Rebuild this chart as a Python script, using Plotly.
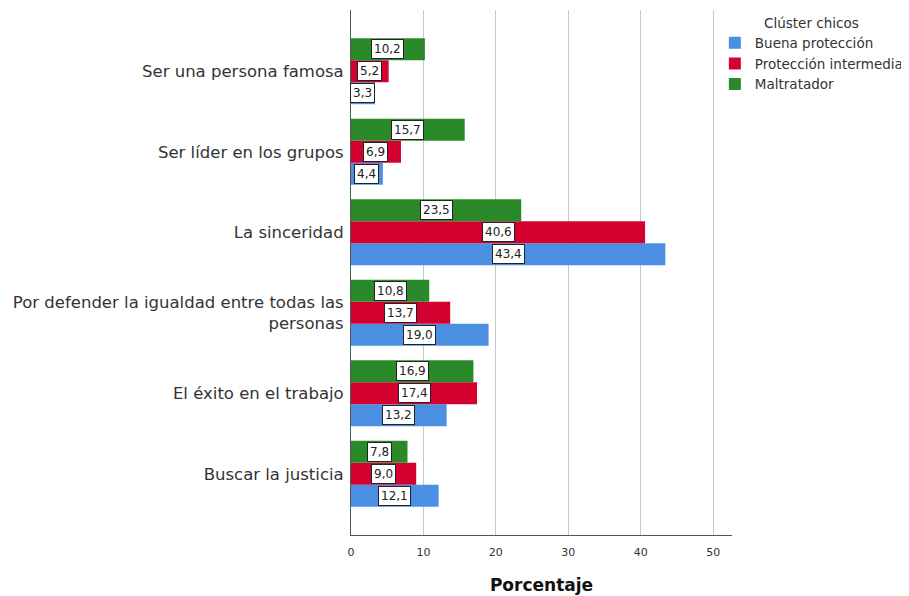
import plotly.graph_objects as go

categories = ["Ser una persona famosa", "Ser líder en los grupos", "La sinceridad",
              "Por defender la igualdad entre todas las<br>personas",
              "El éxito en el trabajo", "Buscar la justicia"]
series_names = ["Buena protección", "Protección intermedia", "Maltratador"]
buena = [3.3, 4.4, 43.4, 19.0, 13.2, 12.1]
intermedia = [5.2, 6.9, 40.6, 13.7, 17.4, 9.0]
maltratador = [10.2, 15.7, 23.5, 10.8, 16.9, 7.8]
colors = ["#4a8fe2", "#d4002f", "#2a8a2a"]
x_ticks = [0, 10, 20, 30, 40, 50]

# bottom-to-top order for plotting
cats_bt = categories[::-1]
series = [buena, intermedia, maltratador]

FONT = "DejaVu Sans, Liberation Sans, Arial"

fig = go.Figure()
bargap = 0.18
bw = (1 - bargap) / 3
for k, (name, vals, col) in enumerate(zip(series_names, series, colors)):
    v_bt = vals[::-1]
    fig.add_trace(go.Bar(y=cats_bt, x=v_bt, name=name, orientation="h",
                         marker=dict(color=col, line=dict(width=0))))
    off = (k - 1) * bw
    for i, v in enumerate(v_bt):
        fig.add_annotation(x=v / 2, y=i + off, xref="x", yref="y",
                           text=f"{v:.1f}".replace(".", ","), showarrow=False,
                           bgcolor="white", bordercolor="#222222", borderwidth=1,
                           borderpad=2,
                           font=dict(family=FONT, size=12, color="#222222"))

fig.update_layout(
    barmode="group", bargap=bargap, bargroupgap=0,
    width=901, height=588,
    margin=dict(l=343, r=177, t=2, b=61, autoexpand=False),
    plot_bgcolor="white", paper_bgcolor="white",
    font=dict(family=FONT, color="#333333"),
    legend=dict(title=dict(text="Clúster chicos", side="top center",
                           font=dict(size=13.5, color="#333333")),
                x=0.955, xanchor="left", y=1.0, yanchor="top",
                traceorder="normal", font=dict(size=13.5, color="#333333"),
                itemwidth=30, tracegroupgap=0),
    xaxis=dict(range=[0, 52.6], tickvals=x_ticks, ticktext=[str(t) for t in x_ticks],
               showgrid=True, gridcolor="#c8c8c8", gridwidth=1,
               showline=True, linecolor="#555555", linewidth=1,
               ticks="", ticklabelstandoff=7, tickfont=dict(size=11, color="#333333"),
               title=dict(text="<b>Porcentaje</b>", font=dict(size=17, color="#111111"), standoff=20),
               zeroline=False),
    yaxis=dict(categoryorder="array", categoryarray=cats_bt, range=[-0.76, 5.76],
               showline=True, linecolor="#555555", linewidth=1, showgrid=False,
               ticks="", ticklabelstandoff=3,
               tickfont=dict(size=16.5, color="#333333"), zeroline=False),
)
fig.write_html("out.html")
